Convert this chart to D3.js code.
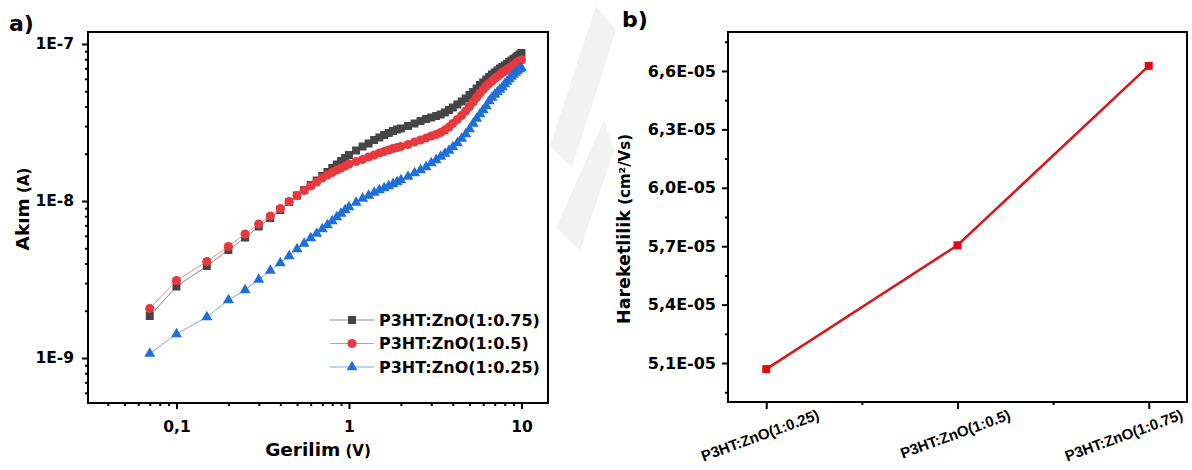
<!DOCTYPE html>
<html>
<head>
<meta charset="utf-8">
<script src="https://cdn.jsdelivr.net/npm/d3@7"></script>
<style>
  body { margin: 0; background: #fff; }
  svg { display: block; font-family: "DejaVu Sans", sans-serif; font-weight: bold; }
</style>
</head>
<body>
<svg id="chart" width="1192" height="470"></svg>
<script>
// panel a: I-V curves (log-log)
const voltage = [0.07, 0.1, 0.15, 0.2, 0.25, 0.3, 0.35, 0.4, 0.45, 0.5, 0.55, 0.6, 0.65, 0.7, 0.75, 0.8, 0.85, 0.9, 0.95, 1.0,
  1.1, 1.2, 1.3, 1.4, 1.5, 1.6, 1.7, 1.8, 1.9, 2.0,
  2.2, 2.4, 2.6, 2.8, 3.0, 3.2, 3.4, 3.6, 3.8, 4.0,
  4.25, 4.5, 4.75, 5.0, 5.25, 5.5, 5.75, 6.0, 6.25, 6.5, 6.75, 7.0, 7.25, 7.5, 7.75, 8.0, 8.25, 8.5, 8.75, 9.0, 9.25, 9.5, 9.75, 10];

const current075 = [1.851e-9, 2.854e-9, 3.855e-9, 4.874e-9, 5.854e-9, 6.880e-9, 7.794e-9, 8.764e-9, 9.854e-9, 1.084e-8,
  1.175e-8, 1.264e-8, 1.351e-8, 1.443e-8, 1.530e-8, 1.623e-8, 1.708e-8, 1.798e-8, 1.879e-8, 1.963e-8,
  2.097e-8, 2.224e-8, 2.324e-8, 2.446e-8, 2.538e-8, 2.633e-8, 2.711e-8, 2.792e-8, 2.854e-8, 2.896e-8,
  3.004e-8, 3.116e-8, 3.233e-8, 3.329e-8, 3.403e-8, 3.479e-8, 3.556e-8, 3.662e-8, 3.798e-8, 3.940e-8,
  4.118e-8, 4.303e-8, 4.497e-8, 4.734e-8, 4.947e-8, 5.207e-8, 5.481e-8, 5.686e-8, 5.942e-8, 6.164e-8,
  6.394e-8, 6.585e-8, 6.781e-8, 6.982e-8, 7.138e-8, 7.298e-8, 7.459e-8, 7.682e-8, 7.852e-8, 8.027e-8,
  8.204e-8, 8.388e-8, 8.573e-8, 8.764e-8];

const current05 = [2.067e-9, 3.116e-9, 4.118e-9, 5.130e-9, 6.164e-9, 7.138e-9, 8.027e-9, 8.961e-9, 9.927e-9, 1.084e-8,
  1.166e-8, 1.246e-8, 1.321e-8, 1.401e-8, 1.464e-8, 1.519e-8, 1.576e-8, 1.623e-8, 1.671e-8, 1.721e-8,
  1.785e-8, 1.838e-8, 1.906e-8, 1.963e-8, 2.021e-8, 2.067e-8, 2.113e-8, 2.160e-8, 2.192e-8, 2.224e-8,
  2.290e-8, 2.376e-8, 2.446e-8, 2.519e-8, 2.594e-8, 2.652e-8, 2.731e-8, 2.833e-8, 2.960e-8, 3.116e-8,
  3.304e-8, 3.505e-8, 3.743e-8, 3.998e-8, 4.271e-8, 4.563e-8, 4.874e-8, 5.130e-8, 5.400e-8, 5.602e-8,
  5.811e-8, 6.030e-8, 6.209e-8, 6.394e-8, 6.585e-8, 6.730e-8, 6.880e-8, 7.034e-8, 7.191e-8, 7.350e-8,
  7.514e-8, 7.682e-8, 7.794e-8, 7.910e-8];

const current025 = [1.068e-9, 1.422e-9, 1.824e-9, 2.341e-9, 2.711e-9, 3.162e-9, 3.608e-9, 4.028e-9, 4.464e-9, 4.947e-9,
  5.361e-9, 5.811e-9, 6.209e-9, 6.634e-9, 7.034e-9, 7.459e-9, 7.910e-9, 8.326e-9, 8.764e-9, 9.158e-9,
  9.781e-9, 1.037e-8, 1.084e-8, 1.133e-8, 1.175e-8, 1.210e-8, 1.246e-8, 1.283e-8, 1.321e-8, 1.361e-8,
  1.432e-8, 1.508e-8, 1.576e-8, 1.647e-8, 1.746e-8, 1.824e-8, 1.920e-8, 2.006e-8, 2.097e-8, 2.208e-8,
  2.341e-8, 2.501e-8, 2.672e-8, 2.874e-8, 3.116e-8, 3.354e-8, 3.583e-8, 3.798e-8, 4.028e-8, 4.335e-8,
  4.563e-8, 4.769e-8, 4.947e-8, 5.130e-8, 5.321e-8, 5.561e-8, 5.768e-8, 5.984e-8, 6.209e-8, 6.394e-8,
  6.585e-8, 6.781e-8, 6.930e-8, 7.034e-8];

const seriesNames = ["P3HT:ZnO(1:0.75)", "P3HT:ZnO(1:0.5)", "P3HT:ZnO(1:0.25)"];

const xTicksA = [0.1, 1, 10];
const xTickLabelsA = ["0,1", "1", "10"];
const yTicksA = [1e-9, 1e-8, 1e-7];
const yTickLabelsA = ["1E-9", "1E-8", "1E-7"];

// panel b: mobility per ratio
const ratios = ["P3HT:ZnO(1:0.25)", "P3HT:ZnO(1:0.5)", "P3HT:ZnO(1:0.75)"];
const mobility = [5.069e-5, 5.705e-5, 6.626e-5];
const yTicksB = [5.1e-5, 5.4e-5, 5.7e-5, 6.0e-5, 6.3e-5, 6.6e-5];
const yTickLabelsB = ["5,1E-05", "5,4E-05", "5,7E-05", "6,0E-05", "6,3E-05", "6,6E-05"];

const svg = d3.select("#chart");

// faint watermark between the panels
svg.append("g").attr("fill", "#f2f2f2")
  .selectAll("path")
  .data(["M596,6 L616,30 L572,168 L550,146 Z", "M604,120 L614,150 L580,250 L556,228 Z"])
  .join("path").attr("d", d => d);

// ---------- panel a ----------
const ax = {left: 88, right: 548, top: 32, bottom: 403};
const x = d3.scaleLog().domain([0.0307, 14.25]).range([ax.left, ax.right]);
const y = d3.scaleLog().domain([5.17e-10, 1.192e-7]).range([ax.bottom, ax.top]);

function minorLog(lo, hi) {
  let out = [];
  for (let e = Math.floor(Math.log10(lo)); e <= Math.ceil(Math.log10(hi)); e++) {
    for (let m = 2; m <= 9; m++) {
      let v = m * Math.pow(10, e);
      if (v > lo && v < hi) out.push(v);
    }
  }
  return out;
}

const ga = svg.append("g");
ga.append("rect").attr("x", ax.left).attr("y", ax.top)
  .attr("width", ax.right - ax.left).attr("height", ax.bottom - ax.top).attr("fill", "#fff");

ga.append("g").attr("transform", `translate(0,${ax.bottom})`)
  .call(d3.axisBottom(x).tickValues(minorLog(0.0307, 14.25)).tickSize(3).tickFormat(""));
ga.append("g").attr("transform", `translate(0,${ax.bottom})`)
  .call(d3.axisBottom(x).tickValues(xTicksA).tickSize(6).tickPadding(12)
    .tickFormat((d, i) => xTickLabelsA[i]));
ga.append("g").attr("transform", `translate(${ax.left},0)`)
  .call(d3.axisLeft(y).tickValues(minorLog(5.17e-10, 1.192e-7)).tickSize(3).tickFormat(""));
ga.append("g").attr("transform", `translate(${ax.left},0)`)
  .call(d3.axisLeft(y).tickValues(yTicksA).tickSize(6).tickPadding(8)
    .tickFormat((d, i) => yTickLabelsA[i]));

ga.selectAll(".domain").remove();
ga.selectAll(".tick line").attr("stroke", "#000").attr("stroke-width", 2);
ga.selectAll(".tick text").attr("fill", "#000").attr("font-size", 15.5)
  .attr("font-family", "DejaVu Sans").attr("font-weight", "bold");

const series = [
  {name: seriesNames[0], values: current075, color: "#454545", line: "#8a8a8a", symbol: d3.symbolSquare, size: 64},
  {name: seriesNames[1], values: current05, color: "#e8393e", line: "#ef8a8c", symbol: d3.symbolCircle, size: 66},
  {name: seriesNames[2], values: current025, color: "#1f6fd8", line: "#7aa9e6", symbol: d3.symbolTriangle, size: 52}
];

const lineA = d3.line().x(d => x(d[0])).y(d => y(d[1]));

series.forEach(s => {
  const pts = voltage.map((v, i) => [v, s.values[i]]);
  ga.append("path").datum(pts).attr("d", lineA)
    .attr("fill", "none").attr("stroke", s.line).attr("stroke-width", 1);
  ga.append("g").selectAll("path").data(pts).join("path")
    .attr("transform", d => `translate(${x(d[0])},${y(d[1])})`)
    .attr("d", d3.symbol().type(s.symbol).size(s.size))
    .attr("fill", s.color);
});

ga.append("rect").attr("x", ax.left).attr("y", ax.top)
  .attr("width", ax.right - ax.left).attr("height", ax.bottom - ax.top)
  .attr("fill", "none").attr("stroke", "#000").attr("stroke-width", 2);

// legend
const lg = ga.append("g").attr("transform", "translate(330,320)");
series.forEach((s, i) => {
  const row = lg.append("g").attr("transform", `translate(0,${i * 23.5})`);
  row.append("line").attr("x1", 0).attr("x2", 44).attr("stroke", s.line).attr("stroke-width", 1.2);
  row.append("path").attr("transform", "translate(22,0)")
    .attr("d", d3.symbol().type(s.symbol).size(s.size)).attr("fill", s.color);
  row.append("text").attr("x", 49).attr("dy", "0.36em").attr("font-size", 16).text(s.name);
});

// axis titles
ga.append("text").attr("transform", "translate(29,209) rotate(-90)").attr("text-anchor", "middle")
  .call(t => {
    t.append("tspan").attr("font-size", 18.5).text("Akım");
    t.append("tspan").attr("font-size", 15).text(" (A)");
  });
ga.append("text").attr("x", 318).attr("y", 456).attr("text-anchor", "middle")
  .call(t => {
    t.append("tspan").attr("font-size", 18.5).text("Gerilim");
    t.append("tspan").attr("font-size", 15).text(" (V)");
  });
svg.append("text").attr("x", 9).attr("y", 31).attr("font-size", 22).text("a)");

// ---------- panel b ----------
const bx = {left: 728, right: 1187, top: 32, bottom: 402};
const xb = d3.scaleLinear().domain([0.8, 3.2]).range([bx.left, bx.right]);
const yb = d3.scaleLinear().domain([4.9e-5, 6.8e-5]).range([bx.bottom, bx.top]);

const gb = svg.append("g");
gb.append("g").attr("transform", `translate(0,${bx.bottom})`)
  .call(d3.axisBottom(xb).tickValues([1.5, 2.5]).tickSize(3).tickFormat(""));
gb.append("g").attr("transform", `translate(0,${bx.bottom})`)
  .call(d3.axisBottom(xb).tickValues([1, 2, 3]).tickSize(7).tickFormat(""));
gb.append("g").attr("transform", `translate(${bx.left},0)`)
  .call(d3.axisLeft(yb).tickValues(yTicksB.map(v => v - 1.5e-6).concat([6.75e-5])).tickSize(3).tickFormat(""));
gb.append("g").attr("transform", `translate(${bx.left},0)`)
  .call(d3.axisLeft(yb).tickValues(yTicksB).tickSize(6).tickPadding(6)
    .tickFormat((d, i) => yTickLabelsB[i]));
gb.selectAll(".domain").remove();
gb.selectAll(".tick line").attr("stroke", "#000").attr("stroke-width", 2);
gb.selectAll(".tick text").attr("fill", "#000").attr("font-size", 16)
  .attr("font-family", "DejaVu Sans").attr("font-weight", "bold");

// rotated category labels, right end kept inside the picture
gb.append("g").selectAll("text").data(ratios).join("text")
  .attr("transform", (d, i) => `translate(${Math.min(xb(i + 1) + 54, 1184)},${bx.bottom + 17}) rotate(-20)`)
  .attr("text-anchor", "end")
  .attr("font-family", "'Liberation Sans', Arial, sans-serif")
  .attr("font-weight", "bold")
  .attr("font-size", 15).text(d => d);

const pointsB = mobility.map((m, i) => [i + 1, m]);
gb.append("path").datum(pointsB)
  .attr("d", d3.line().x(d => xb(d[0])).y(d => yb(d[1])))
  .attr("fill", "none").attr("stroke", "#d41c1c").attr("stroke-width", 2.6);
gb.append("g").selectAll("rect").data(pointsB).join("rect")
  .attr("x", d => xb(d[0]) - 4).attr("y", d => yb(d[1]) - 4)
  .attr("width", 8).attr("height", 8).attr("fill", "#e8080c");

gb.append("rect").attr("x", bx.left).attr("y", bx.top)
  .attr("width", bx.right - bx.left).attr("height", bx.bottom - bx.top)
  .attr("fill", "none").attr("stroke", "#000").attr("stroke-width", 2);

gb.append("text").attr("transform", "translate(630,229) rotate(-90)").attr("text-anchor", "middle")
  .call(t => {
    t.append("tspan").attr("font-size", 17.5).text("Hareketlilik");
    t.append("tspan").attr("font-size", 15).text(" (cm²/Vs)");
  });
svg.append("text").attr("x", 622).attr("y", 27).attr("font-size", 22).text("b)");
</script>
</body>
</html>
